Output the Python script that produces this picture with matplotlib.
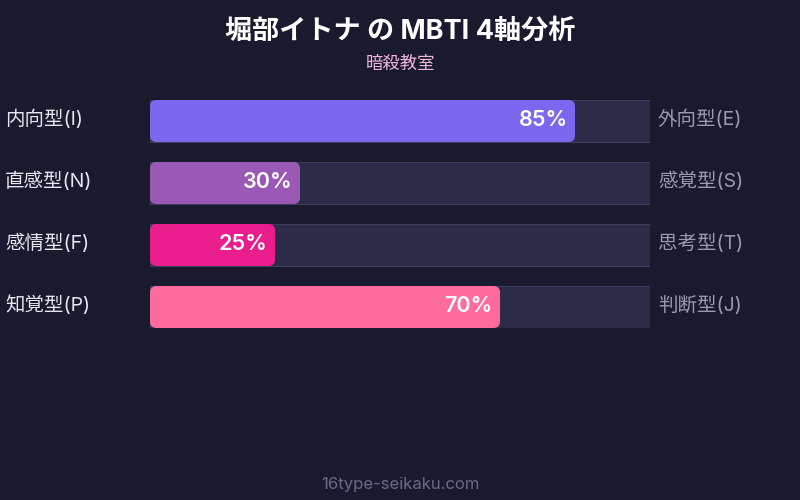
import matplotlib.pyplot as plt
from matplotlib.patches import FancyBboxPatch

plt.rcParams['font.family'] = ['Inter', 'Noto Sans CJK JP', 'DejaVu Sans']

title = "堀部イトナ の MBTI 4軸分析"
subtitle = "暗殺教室"
footer = "16type-seikaku.com"

left_labels = ["内向型(I)", "直感型(N)", "感情型(F)", "知覚型(P)"]
right_labels = ["外向型(E)", "感覚型(S)", "思考型(T)", "判断型(J)"]
values = [85, 30, 25, 70]
colors = ["#7b68ee", "#9b59b6", "#e91e8c", "#ff6b9d"]

bg = "#1a1a2e"
track = "#2c2b48"

fig = plt.figure(figsize=(8, 5), dpi=100, facecolor=bg)

# bar area: x 150..650 px, rows 62 px apart, 42 px tall
half = 21 / 62
ax = fig.add_axes([150 / 800, 1 - 328 / 500, 500 / 800, 228 / 500])
ax.set_facecolor(bg)
ax.set_xlim(0, 100)
ax.set_ylim(3 + half, -half)
ax.axis('off')

rows = list(range(len(values)))
ax.barh(rows, [100] * len(rows), height=2 * half, color=track,
        edgecolor="#3d3d5c", linewidth=0.8)

bars = ax.barh(rows, values, height=2 * half, color=colors)
for b, c in zip(bars, colors):
    b.set_visible(False)
    p = FancyBboxPatch((b.get_x(), b.get_y()), b.get_width(), b.get_height(),
                       boxstyle="round,pad=0,rounding_size=1.3",
                       mutation_aspect=5 / 62, facecolor=c, edgecolor='none')
    ax.add_patch(p)

for r, v in zip(rows, values):
    ax.text(v - 1.5, r - 0.02, f"{v}%", ha='right', va='center', color='white',
            fontsize=15.5, fontweight='semibold')

for r, (lt, rt) in zip(rows, zip(left_labels, right_labels)):
    ax.text(-29, r - 0.03, lt, ha='left', va='center', color='#e6e6f0', fontsize=14)
    ax.text(101.6, r - 0.03, rt, ha='left', va='center', color='#9a9ab0', fontsize=14)

fig.text(0.5, 1 - 32 / 500, title, ha='center', va='center', color='white',
         fontsize=19.5, fontweight='bold')
fig.text(0.5, 1 - 64 / 500, subtitle, ha='center', va='center', color='#f0b8d8',
         fontsize=12.5)
fig.text(0.5, 1 - 484 / 500, footer, ha='center', va='center', color='#6a6a85',
         fontsize=12)

fig.savefig("out.png", dpi=100, facecolor=bg)
